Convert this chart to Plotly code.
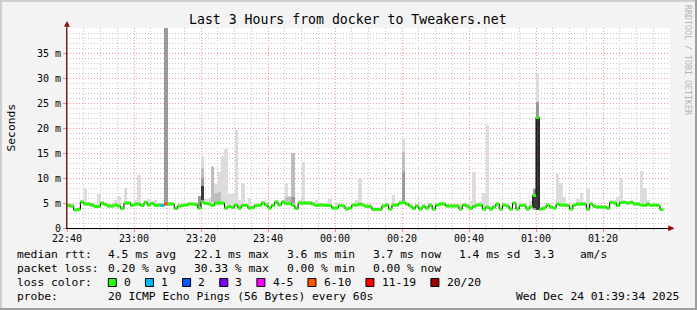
import datetime as dt
import plotly.graph_objects as go

# ---------------- data ----------------
start = dt.datetime(2025, 12, 23, 22, 40)
end = dt.datetime(2025, 12, 24, 1, 40)

median_ms = [
    4.5, 4.4, 3.6, 3.7, 5.2, 4.8, 4.8, 4.6, 4.3, 4.3,
    5.0, 4.7, 4.4, 4.4, 4.6, 4.4, 3.9, 5.0, 5.0, 4.5,
    4.8, 4.8, 4.5, 5.1, 4.6, 4.9, 4.5, 4.6, 4.5, 4.8,
    4.8, 4.8, 3.9, 4.4, 4.5, 4.6, 4.8, 4.8, 4.7, 4.0,
    5.1, 4.9, 4.8, 4.5, 5.0, 5.0, 5.0, 4.0, 4.3, 4.1,
    4.6, 4.0, 4.5, 4.5, 4.0, 4.1, 4.5, 4.5, 5.0, 4.6,
    4.0, 4.5, 5.2, 4.6, 5.2, 4.9, 4.9, 4.6, 3.9, 5.0,
    5.0, 5.0, 5.0, 4.8, 4.5, 4.6, 4.6, 4.5, 4.5, 4.0,
    4.0, 4.5, 4.4, 3.8, 4.0, 4.6, 4.6, 4.8, 4.6, 4.3,
    4.3, 3.7, 3.7, 3.7, 4.4, 4.6, 3.8, 4.6, 4.6, 5.0,
    5.1, 4.8, 4.4, 3.9, 4.4, 3.8, 4.3, 4.0, 4.6, 3.8,
    4.6, 4.8, 4.8, 4.4, 4.4, 4.4, 4.4, 3.8, 4.6, 4.4,
    3.9, 4.3, 4.6, 4.6, 3.8, 4.2, 3.8, 4.2, 4.8, 3.8,
    4.6, 4.4, 3.8, 5.0, 3.8, 4.5, 4.5, 3.8, 4.2, 6.5,
    22.1, 3.8, 4.0, 4.6, 4.2, 4.0, 4.8, 4.6, 4.6, 4.5,
    3.8, 4.6, 4.8, 4.8, 4.8, 3.8, 4.8, 4.3, 4.2, 4.2,
    4.2, 4.0, 5.1, 5.0, 4.5, 5.1, 5.1, 5.0, 5.1, 4.8,
    4.8, 4.6, 4.5, 4.8, 4.5, 4.6, 4.5, 3.7,
]

# lost pings (of 20) per minute index; all others 0
loss_pings = {28: 1, 29: 6}

# top of the light smoke (ms) per minute index
smoke_light = {
    5: 7.8, 9: 6.8, 14: 5.6, 15: 6.4, 17: 8.1, 20: 5.6, 21: 10.6, 24: 5.8,
    26: 5.6, 39: 6.4, 40: 14.4, 41: 5.9, 42: 6.0, 43: 12.4, 44: 8.9,
    45: 11.3, 46: 14.4, 47: 15.8, 48: 6.9, 49: 6.9, 50: 19.6, 51: 5.6,
    52: 9.1, 54: 6.0, 59: 5.3, 65: 9.1, 66: 6.5, 67: 15.1, 69: 5.6,
    70: 13.2, 74: 5.6, 78: 5.9, 80: 5.3, 86: 5.7, 87: 10.1, 95: 5.0,
    97: 6.6, 99: 5.6, 100: 17.8, 120: 5.5, 121: 11.3, 123: 5.5, 124: 7.1,
    125: 20.6, 133: 5.3, 138: 5.5, 139: 8.0, 140: 30.9, 146: 10.8,
    147: 9.1, 148: 6.2, 152: 5.8, 153: 7.0, 155: 7.8, 163: 5.6, 164: 6.2,
    165: 10.0, 171: 11.5, 172: 8.0, 173: 5.6,
}
# denser smoke bands (low, high) in ms
smoke_mid = {
    40: (5.2, 12.0), 43: (5.2, 12.2), 44: (5.2, 7.0), 45: (5.2, 7.2),
    65: (5.0, 6.3), 66: (5.0, 6.3), 67: (5.3, 15.1), 100: (5.3, 15.3),
}
smoke_dark = {
    29: (5.0, 40.0), 39: (4.3, 6.4), 40: (5.3, 10.0), 67: (5.0, 6.3),
    100: (5.3, 11.3), 139: (3.6, 7.8), 140: (3.6, 25.3),
}
smoke_black = {
    40: (5.6, 8.5), 139: (4.0, 6.8), 140: (3.6, 22.3),
}

y_tick_values = [0, 5, 10, 15, 20, 25, 30, 35]
y_tick_labels = ["0", "5 m", "10 m", "15 m", "20 m", "25 m", "30 m", "35 m"]
time_labels = ["22:40", "23:00", "23:20", "23:40", "00:00", "00:20",
               "00:40", "01:00", "01:20"]

loss_labels = ["0", "1", "2", "3", "4-5", "6-10", "11-19", "20/20"]
loss_colors = ["#26ff00", "#00b8ff", "#0059ff", "#7e00ff", "#ff00ff",
               "#ff5500", "#ff0000", "#a00000"]
loss_limits = [0, 1, 2, 3, 5, 10, 19, 20]

title_text = "Last 3 Hours from docker to Tweakers.net"
rtt_label = "median rtt:"
rtt_stats = ["4.5 ms avg", "22.1 ms max", "3.6 ms min", "3.7 ms now",
             "1.4 ms sd"]
rtt_extra = ["3.3", "am/s"]
loss_label = "packet loss:"
loss_stats = ["0.20 % avg", "30.33 % max", "0.00 % min", "0.00 % now"]
probe_label = "probe:"
probe_text = "20 ICMP Echo Pings (56 Bytes) every 60s"
date_text = "Wed Dec 24 01:39:34 2025"

# ---------------- geometry helpers ----------------
W_PX, H_PX = 697, 310
L, R, T, B = 67, 670, 28, 228
PW, PH = R - L, B - T
MONO = "DejaVu Sans Mono"


def px(x):
    return (x - L) / PW


def py(y):
    return (B - y) / PH


step = dt.timedelta(minutes=1)
n = len(median_ms)
edges = [start + i * step for i in range(n + 1)]
centers = [start + (i + 0.5) * step for i in range(n)]

fig = go.Figure()

# ---------------- smoke ----------------
light_lo, light_len = [], []
for i, m in enumerate(median_ms):
    top = smoke_light.get(i, m + 0.5)
    lo = min(m - 0.3, top)
    light_lo.append(lo)
    light_len.append(top - lo)
fig.add_trace(go.Bar(x=centers, y=light_len, base=light_lo, width=60000,
                     marker=dict(color="#dcdcdc", line=dict(width=0)),
                     hoverinfo="skip"))

for band, col in ((smoke_mid, "#bdbdbd"), (smoke_dark, "#9a9a9a"),
                  (smoke_black, "#3a3a3a")):
    keys = sorted(band)
    fig.add_trace(go.Bar(x=[centers[k] for k in keys],
                         y=[band[k][1] - band[k][0] for k in keys],
                         base=[band[k][0] for k in keys], width=60000,
                         marker=dict(color=col, line=dict(width=0)),
                         hoverinfo="skip"))

# ---------------- median line ----------------
fig.add_trace(go.Scatter(x=edges, y=median_ms + [median_ms[-1]],
                         mode="lines", line=dict(color="black", width=1,
                                                 shape="hv"),
                         hoverinfo="skip"))


def loss_cat(p):
    for k, lim in enumerate(loss_limits):
        if p <= lim:
            return k
    return len(loss_limits) - 1


for k, col in enumerate(loss_colors):
    xs, ys = [], []
    for i, m in enumerate(median_ms):
        if loss_cat(loss_pings.get(i, 0)) == k:
            xs += [edges[i], edges[i + 1], None]
            ys += [m, m, None]
    if xs:
        fig.add_trace(go.Scatter(x=xs, y=ys, mode="lines",
                                 line=dict(color=col, width=3),
                                 connectgaps=False, hoverinfo="skip"))

# ---------------- axes ----------------
major_times = [start + dt.timedelta(minutes=20 * k) for k in range(len(time_labels))]
minor_times = [start + dt.timedelta(minutes=5 * k) for k in range(1, 36) if k % 4]
fig.update_xaxes(
    type="date", range=[start, end], tickmode="array",
    tickvals=major_times, ticktext=time_labels,
    tickfont=dict(family=MONO, size=10, color="black"),
    ticklabelstandoff=-2,
    showgrid=True, gridcolor="rgba(255,110,110,0.75)", griddash="1px,2px",
    gridwidth=1, ticks="outside", ticklen=3, tickcolor="#ff8080",
    showline=True, linecolor="black", linewidth=1, zeroline=False,
    minor=dict(tickvals=minor_times, showgrid=True, gridcolor="#c8c8c8",
               griddash="1px,2px", ticks="outside", ticklen=2,
               tickcolor="#c8c8c8"),
    fixedrange=True,
)
fig.update_yaxes(
    range=[0, 40], tickmode="array", tickvals=y_tick_values,
    ticktext=y_tick_labels,
    tickfont=dict(family=MONO, size=10, color="black"),
    showgrid=True, gridcolor="rgba(255,110,110,0.75)", griddash="1px,2px",
    ticks="outside", ticklen=3, tickcolor="#ff8080",
    showline=True, linecolor="#7a1f1f", linewidth=1, zeroline=False,
    minor=dict(tickvals=[v for v in range(1, 41) if v % 5], showgrid=True,
               gridcolor="#c8c8c8", griddash="1px,2px"),
    fixedrange=True,
)

# ---------------- text ----------------
ann = []


def text(x, y, s, size=11.3, anchor="left", color="black", angle=0):
    ann.append(dict(x=px(x), y=py(y), xref="paper", yref="paper", text=s,
                    showarrow=False, xanchor=anchor, yanchor="middle",
                    textangle=angle, borderpad=0,
                    font=dict(family=MONO, size=size, color=color)))


text(348, 19, title_text, size=13.2, anchor="center")
text(10.5, 128, "Seconds", anchor="center", angle=-90)
text(688, 60, "RRDTOOL / TOBI OETIKER", size=8.3, anchor="center",
     color="#b4b4b4", angle=90)

legend_cols = [107.3, 193.3, 286, 372.3, 458.3]
LY = [254.3, 268.3, 282.3, 296.0]
text(16, LY[0], rtt_label)
for s, x in zip(rtt_stats, legend_cols):
    text(x, LY[0], s)
text(532.7, LY[0], rtt_extra[0])
text(579.3, LY[0], rtt_extra[1])
text(16, LY[1], loss_label)
for s, x in zip(loss_stats, legend_cols):
    text(x, LY[1], s)
text(16, LY[2], "loss color:")
text(16, LY[3], probe_label)
text(legend_cols[0], LY[3], probe_text)
text(680, LY[3], date_text, anchor="right")

shapes = []
bx = 108.3
for lab, col in zip(loss_labels, loss_colors):
    shapes.append(dict(type="rect", xref="paper", yref="paper",
                       x0=px(bx), x1=px(bx + 8), y0=py(278.5), y1=py(286.5),
                       fillcolor=col, line=dict(color="black", width=1)))
    text(bx + 14.7, LY[2], lab)
    bx = bx + 14.7 + len(lab) * 6.95 + 15.5

# frame (rrdtool shading)
for (x0, y0, x1, y1, c) in [
    (0, 0, 697, 2, "#cfcfcf"), (0, 0, 2, 310, "#cfcfcf"),
    (695, 0, 697, 310, "#9e9e9e"), (0, 308, 697, 310, "#9e9e9e"),
]:
    shapes.append(dict(type="rect", xref="paper", yref="paper",
                       x0=px(x0), x1=px(x1), y0=py(y0), y1=py(y1),
                       fillcolor=c, line=dict(width=0), layer="above"))

# arrows
shapes.append(dict(type="line", xref="paper", yref="paper", x0=px(67),
                   x1=px(67), y0=py(228), y1=py(25),
                   line=dict(color="#7a1f1f", width=1)))
shapes.append(dict(type="path", xref="paper", yref="paper",
                   path=f"M {px(64.5)},{py(26.5)} L {px(69.5)},{py(26.5)} "
                        f"L {px(67)},{py(21.5)} Z",
                   fillcolor="#990000", line=dict(color="#990000", width=0.5)))
shapes.append(dict(type="path", xref="paper", yref="paper",
                   path=f"M {px(668.5)},{py(225.8)} L {px(668.5)},{py(230.8)} "
                        f"L {px(674)},{py(228.3)} Z",
                   fillcolor="#990000", line=dict(color="#990000", width=0.5)))

fig.update_layout(
    width=W_PX, height=H_PX, autosize=False,
    margin=dict(l=L, r=W_PX - R, t=T, b=H_PX - B, pad=0),
    paper_bgcolor="#f3f3f3", plot_bgcolor="white",
    barmode="overlay", bargap=0, showlegend=False,
    annotations=ann, shapes=shapes,
    font=dict(family=MONO, color="black"),
)

fig.write_html("out.html", config={"displayModeBar": False})
